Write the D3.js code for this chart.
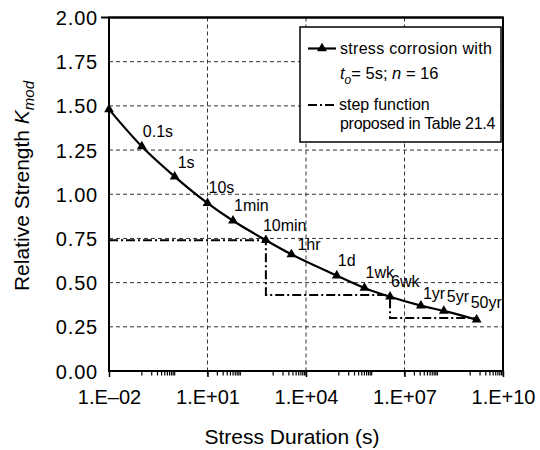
<!DOCTYPE html>
<html>
<head>
<meta charset="utf-8">
<script src="https://cdn.jsdelivr.net/npm/d3@7/dist/d3.min.js"></script>
<style>
  html, body { margin: 0; padding: 0; background: #fff; }
  svg { display: block; font-family: "Liberation Sans", Arial, Helvetica, sans-serif; }
</style>
</head>
<body>
<svg id="chart" width="540" height="450"></svg>
<script>
// Stress corrosion curve: load duration (s) and relative strength
const durations = [0.01, 0.1, 1, 10, 60, 600, 3600, 86400, 604800, 3628800, 31536000, 157680000, 1576800000];
const durationLabels = ["", "0.1s", "1s", "10s", "1min", "10min", "1hr", "1d", "1wk", "6wk", "1yr", "5yr", "50yr"];
const strength = [1.48, 1.27, 1.10, 0.95, 0.85, 0.74, 0.66, 0.54, 0.47, 0.42, 0.37, 0.34, 0.29];

// Step function: break durations and the level held on each interval
const stepBreaks = [0.01, 600, 3628800, 1576800000];
const stepLevels = [0.74, 0.43, 0.30];

// Axis ticks
const yTicks = [0, 0.25, 0.5, 0.75, 1.0, 1.25, 1.5, 1.75, 2.0];
const xTicks = [1e-2, 1e1, 1e4, 1e7, 1e10];
const xTickLabels = ["1.E\u201302", "1.E+01", "1.E+04", "1.E+07", "1.E+10"];
const minorDecades = [-1, 1, 3, 5, 7, 9];

// Label placement tweaks (px) relative to the default offset
const labelNudge = { "1hr": [5, 6], "10min": [-4, 1], "50yr": [-7, -2], "1yr": [1, 3], "1s": [2, 1], "5yr": [2, 1] };

const svg = d3.select("#chart");
const plotLeft = 109, plotRight = 503, plotTop = 17.5, plotBottom = 371;

const x = d3.scaleLog().domain([1e-2, 1e10]).range([plotLeft, plotRight]);
const y = d3.scaleLinear().domain([0, 2]).range([plotBottom, plotTop]);

const gridColor = "#333";

// Horizontal gridlines
svg.append("g").selectAll("line")
  .data(yTicks.filter(v => v > 0 && v < 2))
  .join("line")
  .attr("x1", plotLeft).attr("x2", plotRight)
  .attr("y1", d => y(d)).attr("y2", d => y(d))
  .attr("stroke", gridColor).attr("stroke-width", 1)
  .attr("stroke-dasharray", "4,3");

// Vertical gridlines
svg.append("g").selectAll("line")
  .data(xTicks.filter(v => v > 1e-2 && v < 1e10))
  .join("line")
  .attr("x1", d => x(d)).attr("x2", d => x(d))
  .attr("y1", plotTop).attr("y2", plotBottom)
  .attr("stroke", gridColor).attr("stroke-width", 1)
  .attr("stroke-dasharray", "4,3");

// Bottom axis: major ticks with labels
const xAxis = d3.axisBottom(x)
  .tickValues(xTicks)
  .tickFormat((d, i) => xTickLabels[i])
  .tickSize(6).tickSizeOuter(0).tickPadding(14);
const gx = svg.append("g").attr("transform", `translate(0,${plotBottom})`).call(xAxis);
gx.select(".domain").remove();
gx.selectAll(".tick line").attr("stroke", "#000").attr("stroke-width", 1.5);
gx.selectAll(".tick text")
  .attr("font-size", 20).attr("fill", "#000")
  .attr("font-family", "Liberation Sans, Arial, sans-serif")
  .attr("dy", "0.71em").attr("y", 19);

// Minor ticks
const minorVals = [];
minorDecades.forEach(m => { for (let j = 1; j <= 10; j++) minorVals.push(j * Math.pow(10, m)); });
svg.append("g").selectAll("line")
  .data(minorVals)
  .join("line")
  .attr("x1", d => x(d)).attr("x2", d => x(d))
  .attr("y1", plotBottom).attr("y2", plotBottom + 4.5)
  .attr("stroke", "#000").attr("stroke-width", 1.2);

// Left axis labels
const yAxis = d3.axisLeft(y)
  .tickValues(yTicks)
  .tickFormat(d3.format(".2f"))
  .tickSize(0).tickPadding(11);
const gy = svg.append("g").attr("transform", `translate(${plotLeft},0)`).call(yAxis);
gy.select(".domain").remove();
gy.selectAll(".tick text")
  .attr("font-size", 20).attr("fill", "#000")
  .attr("letter-spacing", 0.8)
  .attr("font-family", "Liberation Sans, Arial, sans-serif")
  .attr("dy", "0.35em");

// Top edge extends left as the 2.00 tick
svg.append("line")
  .attr("x1", plotLeft - 8).attr("x2", plotRight)
  .attr("y1", y(2)).attr("y2", y(2))
  .attr("stroke", "#000").attr("stroke-width", 2);

// Plot frame
svg.append("rect")
  .attr("x", plotLeft).attr("y", plotTop)
  .attr("width", plotRight - plotLeft).attr("height", plotBottom - plotTop)
  .attr("fill", "none").attr("stroke", "#000").attr("stroke-width", 2);

// Step function (dash-dot)
const stepPts = [];
stepLevels.forEach((lv, i) => {
  stepPts.push([stepBreaks[i], lv]);
  stepPts.push([stepBreaks[i + 1], lv]);
});
const stepLine = d3.line().x(d => x(d[0])).y(d => y(d[1]));
svg.append("path")
  .attr("d", stepLine(stepPts))
  .attr("fill", "none").attr("stroke", "#000").attr("stroke-width", 2)
  .attr("stroke-dasharray", "9,3,2,3");

// Stress corrosion curve
const pts = durations.map((t, i) => [t, strength[i]]);
const curve = d3.line().x(d => x(d[0])).y(d => y(d[1])).curve(d3.curveMonotoneX);
svg.append("path")
  .attr("d", curve(pts))
  .attr("fill", "none").attr("stroke", "#000").attr("stroke-width", 2.2);

const tri = d3.symbol().type(d3.symbolTriangle).size(42);
svg.append("g").selectAll("path")
  .data(pts)
  .join("path")
  .attr("d", tri)
  .attr("transform", d => `translate(${x(d[0])},${y(d[1])})`)
  .attr("fill", "#000");

// Duration labels
svg.append("g").selectAll("text")
  .data(durationLabels.map((s, i) => ({ s, t: durations[i], v: strength[i] })).filter(d => d.s))
  .join("text")
  .attr("x", d => x(d.t) + 1 + (labelNudge[d.s] ? labelNudge[d.s][0] : 0))
  .attr("y", d => y(d.v) - 10 + (labelNudge[d.s] ? labelNudge[d.s][1] : 0))
  .attr("font-size", 16).attr("fill", "#000")
  .text(d => d.s);

// Legend
const lg = svg.append("g");
lg.append("rect")
  .attr("x", 300).attr("y", 27).attr("width", 201).attr("height", 115)
  .attr("fill", "#fff").attr("stroke", "#000").attr("stroke-width", 1.5);
lg.append("line")
  .attr("x1", 308).attr("x2", 336).attr("y1", 48.5).attr("y2", 48.5)
  .attr("stroke", "#000").attr("stroke-width", 2.2);
lg.append("path").attr("d", tri).attr("transform", "translate(322,48.5)").attr("fill", "#000");
lg.append("text").attr("x", 340).attr("y", 54).attr("font-size", 16)
  .attr("letter-spacing", 0.3).text("stress corrosion with");
const l2 = lg.append("text").attr("x", 340).attr("y", 79).attr("font-size", 16.5);
l2.append("tspan").attr("font-style", "italic").text("t");
l2.append("tspan").attr("font-style", "italic").attr("font-size", 12).attr("dy", 5).text("o");
l2.append("tspan").attr("dy", -5).text("= 5s; ");
l2.append("tspan").attr("font-style", "italic").text("n");
l2.append("tspan").text(" = 16");
lg.append("line")
  .attr("x1", 308).attr("x2", 337).attr("y1", 105).attr("y2", 105)
  .attr("stroke", "#000").attr("stroke-width", 2)
  .attr("stroke-dasharray", "9,3,2,3");
lg.append("text").attr("x", 339).attr("y", 110).attr("font-size", 16).text("step function");
lg.append("text").attr("x", 340).attr("y", 129).attr("font-size", 16)
  .attr("letter-spacing", -0.3).text("proposed in Table 21.4");

// Axis titles
svg.append("text")
  .attr("x", 292).attr("y", 444)
  .attr("text-anchor", "middle").attr("font-size", 21)
  .text("Stress Duration (s)");

const yt = svg.append("text")
  .attr("transform", "translate(29,186) rotate(-90)")
  .attr("text-anchor", "middle").attr("font-size", 21);
yt.append("tspan").text("Relative Strength ");
yt.append("tspan").attr("font-style", "italic").text("K");
yt.append("tspan").attr("font-style", "italic").attr("font-size", 15).attr("dy", 5).text("mod");
</script>
</body>
</html>
